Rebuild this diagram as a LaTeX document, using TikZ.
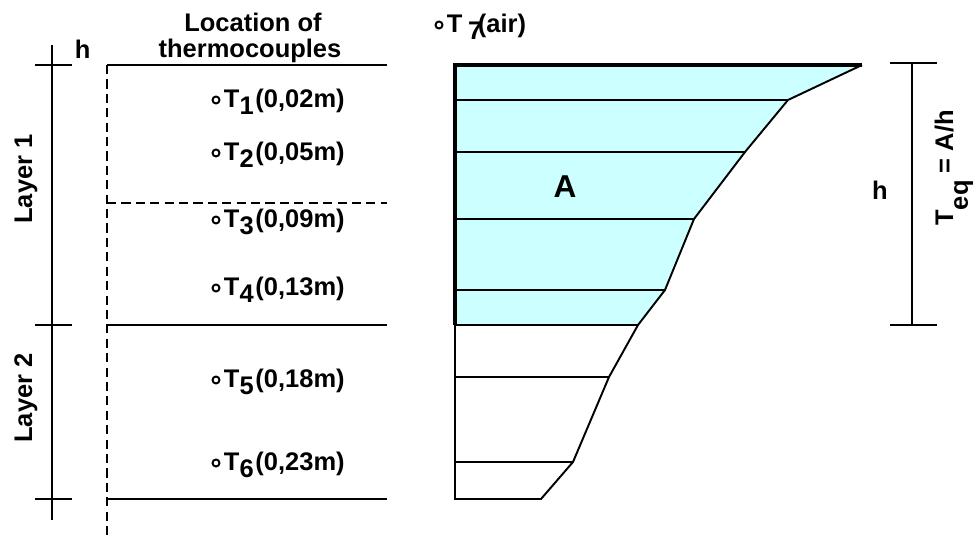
\documentclass[tikz,border=0pt]{standalone}
\usepackage{fontspec}
\setmainfont{Liberation Sans}
\usetikzlibrary{positioning, calc}
\definecolor{areacyan}{RGB}{204,255,255}
\newcommand{\tsub}[1]{\raisebox{-3.5pt}{#1}}

\begin{document}
\begin{tikzpicture}[x=0.02cm, y=-0.02cm, line width=1.1pt,
  lbl/.style={font=\bfseries\fontsize{14.5}{17}\selectfont, inner sep=0pt},
  dashline/.style={dash pattern=on 5.2pt off 3pt}]
\useasboundingbox (0,0) rectangle (975,540);

% temperature profile, area A
\fill[areacyan] (455,65) -- (862,65) -- (788,100) -- (745,152) -- (694,219)
  -- (665,290) -- (638,325) -- (455,325) -- cycle;
\foreach \y/\r in {100/788, 152/745, 219/694, 290/665, 325/638, 377/609, 462/573}
  \draw (455,\y) -- (\r,\y);
\draw (455,325) -- (455,499) -- (541,499) -- (573,462) -- (609,377) -- (638,325)
  -- (665,290) -- (694,219) -- (745,152) -- (788,100) -- (862,65);
\draw[line width=2pt] (455,325) -- (455,65) -- (862,65);
\node[font=\bfseries\fontsize{18}{20}\selectfont, inner sep=0pt, anchor=base] (areaA) at (565,198) {A};

% layers scale
\draw (52,45) -- (52,520);
\foreach \y in {65, 325, 499}
  \draw (35,\y) -- (72,\y);
\node[lbl, anchor=base west] (hleft) at (74,59) {h};
\node[lbl, rotate=90, anchor=base] (layer1) at (32,179) {Layer 1};
\node[lbl, rotate=90, anchor=base] (layer2) at (32,398) {Layer 2};

% sample column
\draw[dashline] (107,65) -- (107,540);
\foreach \y in {65, 325, 499}
  \draw (107,\y) -- (387,\y);
\draw[dashline] (107,203) -- (387,203);
\node[lbl, anchor=base] (title1) at (253,32) {Location of};
\node[lbl, anchor=base] (title2) at (250,58) {thermocouples};

% thermocouples
\foreach \i/\d/\y in {1/02/108, 2/05/161, 3/09/228, 4/13/296, 5/18/388, 6/23/471} {
  \node[lbl, anchor=base west] (t\i) at (223,\y) {T\tsub{\i}\kern1pt(0,\d m)};
  \draw ($(t\i.base west)+(-7,-8)$) circle (3.5);
}
\node[lbl, anchor=base west] (t7) at (446,33) {T\hspace{0.22em}\tsub{7}\kern-2.5pt(air)};
\draw ($(t7.base west)+(-7,-8)$) circle (3.5);

% equivalent temperature
\draw (912,63) -- (912,325);
\foreach \y in {63, 325}
  \draw (890,\y) -- (937,\y);
\node[lbl, anchor=base] (hright) at (880,200) {h};
\node[lbl, rotate=90, anchor=base] (teq) at (953,168) {T\raisebox{-8.5pt}{eq} = A/h};

\end{tikzpicture}
\end{document}
